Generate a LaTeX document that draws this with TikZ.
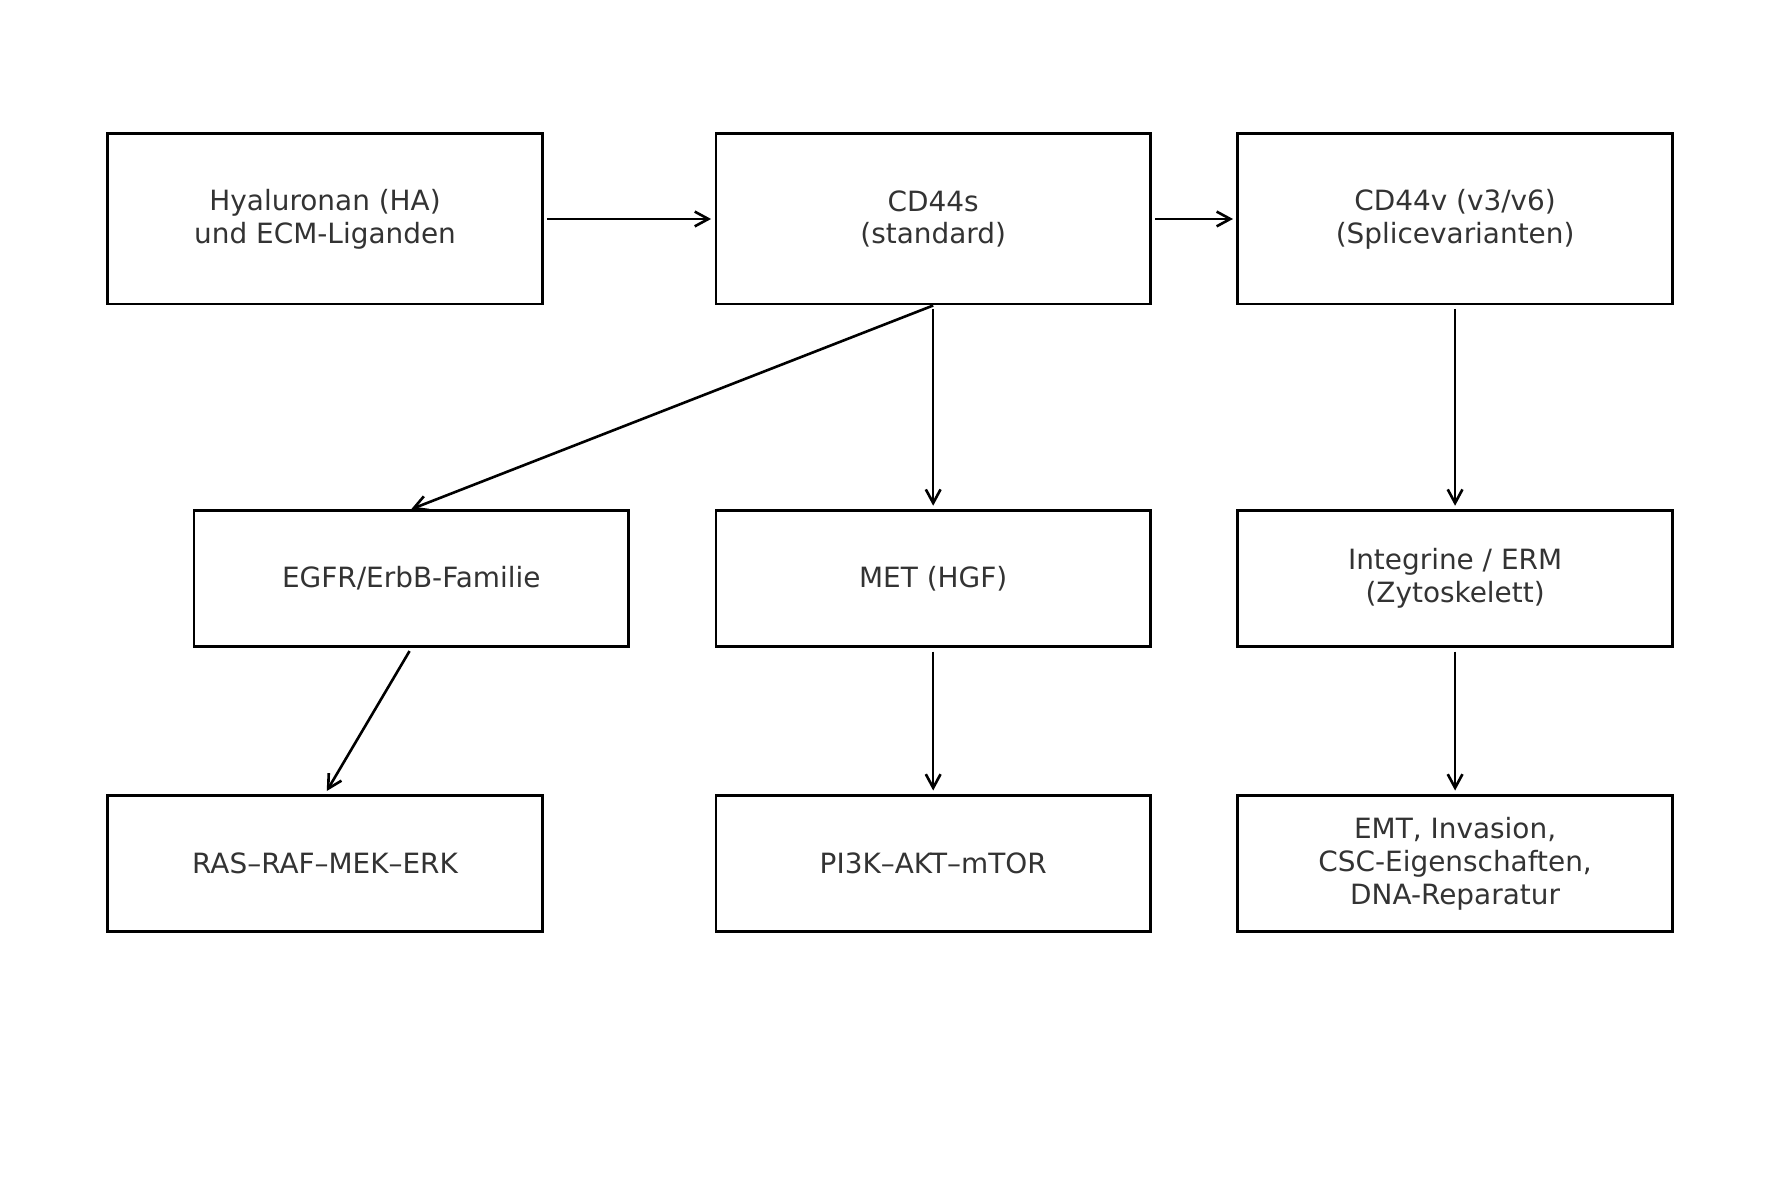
\documentclass[tikz,border=0pt]{standalone}
\usepackage{fontspec}
\setmainfont{DejaVu Sans}
\usetikzlibrary{arrows.meta}
\definecolor{txt}{HTML}{333333}
\begin{document}
\begin{tikzpicture}[x=0.5pt,y=-0.5pt,
  box/.style={draw=black,line width=1.25pt,minimum width=191.5pt,align=center,text=txt,
    font=\fontsize{12.3pt}{14.5pt}\selectfont,inner sep=0pt},
  tall/.style={box,minimum height=75pt},
  short/.style={box,minimum height=60pt},
  conn/.style={line width=1.15pt,-{Straight Barb[length=6pt,width=6.5pt,line width=1.15pt]},shorten <=1.5pt,shorten >=1.5pt}]
\useasboundingbox (0,0) rectangle (1568,1040);
\node[tall] (ha) at (286.5,193) {Hyaluronan (HA)\\und ECM-Liganden};
\node[tall] (cds) at (822.5,193) {CD44s\\(standard)};
\node[tall] (cdv) at (1282.5,193) {CD44v (v3/v6)\\(Splicevarianten)};
\node[short] (egfr) at (362.5,510) {EGFR/ErbB-Familie};
\node[short] (met) at (822.5,510) {MET (HGF)};
\node[short] (int) at (1282.5,510) {Integrine / ERM\\(Zytoskelett)};
\node[short] (ras) at (286.5,761) {RAS–RAF–MEK–ERK};
\node[short] (pik) at (822.5,761) {PI3K–AKT–mTOR};
\node[short] (emt) at (1282.5,761) {EMT, Invasion,\\CSC-Eigenschaften,\\DNA-Reparatur};
\draw[conn] (ha) -- (cds);
\draw[conn] (cds) -- (cdv);
\draw[conn,shorten <=0pt,shorten >=0pt] (cds.south) -- (egfr.north);
\draw[conn] (cds) -- (met);
\draw[conn] (cdv) -- (int);
\draw[conn] (egfr.south) -- (ras.north);
\draw[conn] (met) -- (pik);
\draw[conn] (int) -- (emt);
\end{tikzpicture}
\end{document}
